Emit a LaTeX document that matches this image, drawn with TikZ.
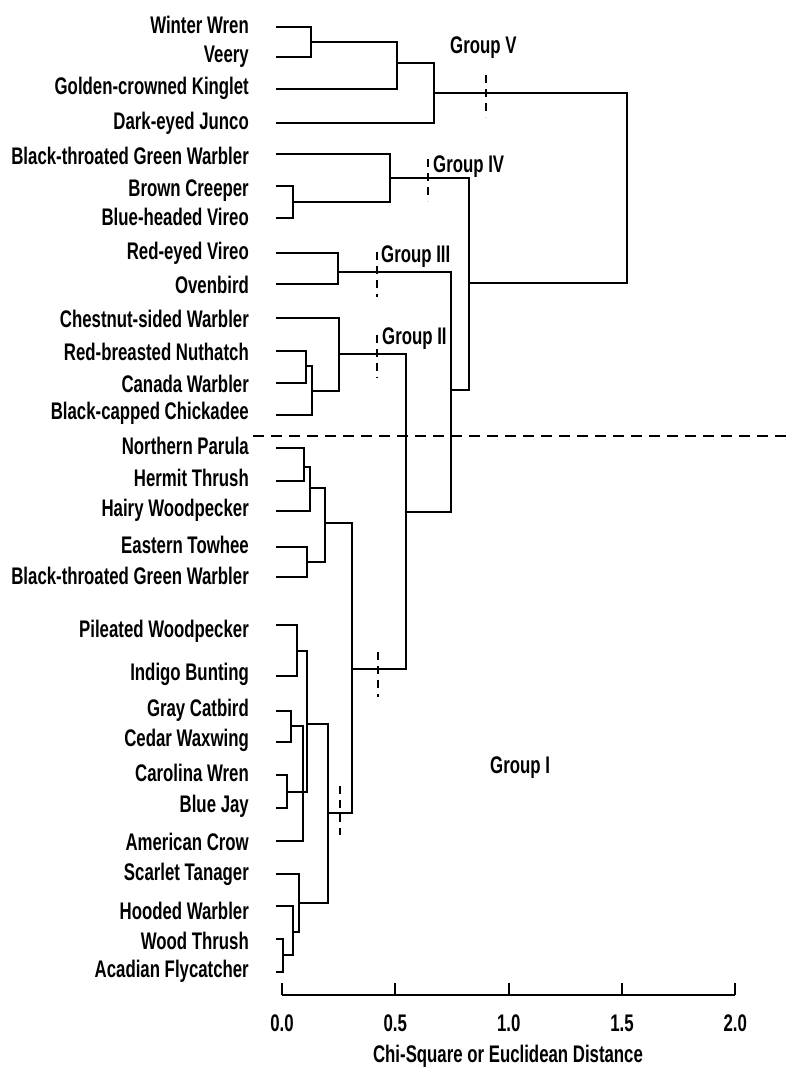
\documentclass[tikz,border=0pt]{standalone}
\usepackage{fontspec}
\setmainfont{Liberation Sans}[FakeStretch=0.70]
\begin{document}
\begin{tikzpicture}[x=1pt,y=-1pt,
  tree/.style={line width=1.8pt, line join=miter},
  leaf/.style={anchor=east, inner sep=0pt, font=\fontsize{24}{26}\selectfont\bfseries},
  grp/.style={anchor=west, inner sep=0pt, font=\fontsize{24}{26}\selectfont\bfseries},
  ticklab/.style={inner sep=0pt, font=\fontsize{24}{26}\selectfont\bfseries},
  cutline/.style={line width=1.6pt, dash pattern=on 11pt off 7pt},
  grpmark/.style={line width=1.6pt, dash pattern=on 8pt off 6pt}]
\useasboundingbox (0,0) rectangle (791,1076);

% leaves: index / text y / line y / text
\foreach \i/\ty/\ly/\txt in {
  1/25/27/Winter Wren,
  2/57/57/Veery,
  3/88/89/Golden-crowned Kinglet,
  4/123/123/Dark-eyed Junco,
  5/156/154/Black-throated Green Warbler,
  6/191/186/Brown Creeper,
  7/217/218/Blue-headed Vireo,
  8/253/253/Red-eyed Vireo,
  9/285/284/Ovenbird,
  10/319/318/Chestnut-sided Warbler,
  11/352/351/Red-breasted Nuthatch,
  12/384/383/Canada Warbler,
  13/413/415/Black-capped Chickadee,
  14/446/448/Northern Parula,
  15/478/481/Hermit Thrush,
  16/510/511/Hairy Woodpecker,
  17/545/547/Eastern Towhee,
  18/576/577/Black-throated Green Warbler,
  19/631/625/Pileated Woodpecker,
  20/674/676/Indigo Bunting,
  21/710/711/Gray Catbird,
  22/740/742/Cedar Waxwing,
  23/773/775/Carolina Wren,
  24/806/808/Blue Jay,
  25/842/841/American Crow,
  26/874/874/Scarlet Tanager,
  27/911/906/Hooded Warbler,
  28/941/939/Wood Thrush,
  29/971/972/Acadian Flycatcher}{
  \node[leaf] (t\i) at (249,\ty) {\txt};
  \coordinate (l\i) at (276,\ly);
}

% merge points
\coordinate (m1) at (311,42);
\coordinate (m2) at (397,63);
\coordinate (m3) at (434,93);
\coordinate (m4) at (293,202);
\coordinate (m5) at (390,178);
\coordinate (m6) at (338,272);
\coordinate (m7) at (306,366);
\coordinate (m8) at (312,391);
\coordinate (m9) at (339,354);
\coordinate (m10) at (304,467);
\coordinate (m11) at (310,488);
\coordinate (m12) at (307,562);
\coordinate (m13) at (325,523);
\coordinate (m14) at (297,651);
\coordinate (m15) at (291,726);
\coordinate (m16) at (287,792);
\coordinate (m17) at (307,724);
\coordinate (m18) at (303,783);
\coordinate (m19) at (283,955);
\coordinate (m20) at (293,932);
\coordinate (m21) at (299,903);
\coordinate (m22) at (328,813);
\coordinate (m23) at (352,669);
\coordinate (m24) at (406,512);
\coordinate (m25) at (451,390);
\coordinate (m26) at (469,283);
\coordinate (m27) at (627,188);

\draw[tree] (l1) -| (m1) |- (l2);
\draw[tree] (m1) -| (m2) |- (l3);
\draw[tree] (m2) -| (m3) |- (l4);
\draw[tree] (l6) -| (m4) |- (l7);
\draw[tree] (l5) -| (m5) |- (m4);
\draw[tree] (l8) -| (m6) |- (l9);
\draw[tree] (l11) -| (m7) |- (l12);
\draw[tree] (m7) -| (m8) |- (l13);
\draw[tree] (l10) -| (m9) |- (m8);
\draw[tree] (l14) -| (m10) |- (l15);
\draw[tree] (m10) -| (m11) |- (l16);
\draw[tree] (l17) -| (m12) |- (l18);
\draw[tree] (m11) -| (m13) |- (m12);
\draw[tree] (l19) -| (m14) |- (l20);
\draw[tree] (l21) -| (m15) |- (l22);
\draw[tree] (l23) -| (m16) |- (l24);
\draw[tree] (m14) -| (m17) |- (m16);
\draw[tree] (m15) -| (m18) |- (l25);
\draw[tree] (l28) -| (m19) |- (l29);
\draw[tree] (l27) -| (m20) |- (m19);
\draw[tree] (l26) -| (m21) |- (m20);
\draw[tree] (m17) -| (m22) |- (m21);
\draw[tree] (m13) -| (m23) |- (m22);
\draw[tree] (m9) -| (m24) |- (m23);
\draw[tree] (m6) -| (m25) |- (m24);
\draw[tree] (m5) -| (m26) |- (m25);
\draw[tree] (m3) -| (m27) |- (m26);

% horizontal cut line
\coordinate (c1) at (253,436);
\coordinate (c2) at (791,436);
\draw[cutline] (c1) -- (c2);

% group markers
\coordinate (gVa) at (486,75);   \coordinate (gVb) at (486,117);
\coordinate (gIVa) at (428,159); \coordinate (gIVb) at (428,201);
\coordinate (gIIIa) at (377,252); \coordinate (gIIIb) at (377,297);
\coordinate (gIIa) at (377,335); \coordinate (gIIb) at (377,378);
\coordinate (gIa) at (378,652); \coordinate (gIb) at (378,697);
\coordinate (gIc) at (340,786); \coordinate (gId) at (340,835);
\draw[grpmark] (gVa) -- (gVb);
\draw[grpmark] (gIVa) -- (gIVb);
\draw[grpmark] (gIIIa) -- (gIIIb);
\draw[grpmark] (gIIa) -- (gIIb);
\draw[grpmark] (gIa) -- (gIb);
\draw[grpmark] (gIc) -- (gId);

% group labels
\node[grp] (lV) at (450,48) {Group V};
\node[grp] (lIV) at (433,167) {Group IV};
\node[grp] (lIII) at (381,257) {Group III};
\node[grp] (lII) at (382,339) {Group II};
\node[grp] (lI) at (490,768) {Group I};

% axis
\coordinate (a0) at (282,995);
\coordinate (a1) at (395.3,995);
\coordinate (a2) at (508.7,995);
\coordinate (a3) at (622,995);
\coordinate (a4) at (735.3,995);
\coordinate (b0) at (282,983);
\coordinate (b1) at (395.3,983);
\coordinate (b2) at (508.7,983);
\coordinate (b3) at (622,983);
\coordinate (b4) at (735.3,983);
\draw[tree] (a0) -- (a4);
\foreach \k in {0,...,4} { \draw[tree] (a\k) -- (b\k); }
\node[ticklab] (x0) at (282,1023) {0.0};
\node[ticklab] (x1) at (395.3,1023) {0.5};
\node[ticklab] (x2) at (508.7,1023) {1.0};
\node[ticklab] (x3) at (622,1023) {1.5};
\node[ticklab] (x4) at (735.3,1023) {2.0};
\node[ticklab] (xt) at (508,1056) {Chi-Square or Euclidean Distance};
\end{tikzpicture}
\end{document}
